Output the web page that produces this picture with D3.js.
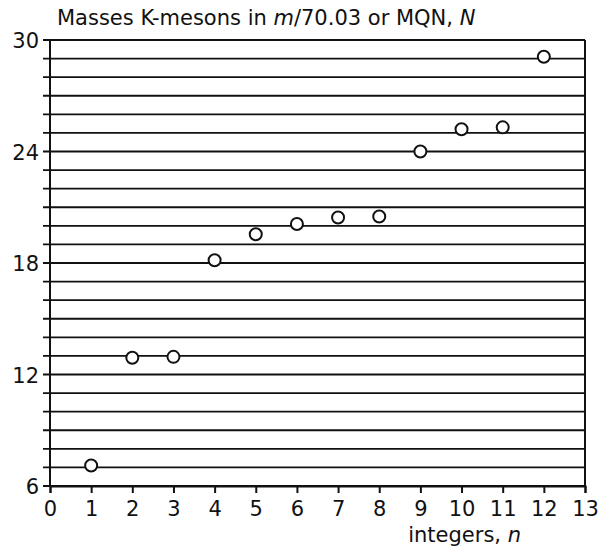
<!DOCTYPE html>
<html>
<head>
<meta charset="utf-8">
<script src="https://cdn.jsdelivr.net/npm/d3@7"></script>
<style>
  body { margin: 0; background: #fff; }
  svg text { font-family: "DejaVu Sans", Verdana, sans-serif; fill: #111; }
</style>
</head>
<body>
<svg></svg>
<script>
// data
var nValues = [1, 2, 3, 4, 5, 6, 7, 8, 9, 10, 11, 12];
var masses = [7.1, 12.9, 12.95, 18.15, 19.55, 20.1, 20.45, 20.5, 24.0, 25.2, 25.3, 29.1];
var yTickLabels = [6, 12, 18, 24, 30];
var xTicks = d3.range(0, 14);
var gridLevels = d3.range(6, 31);

var width = 600,
    height = 546,
    margin = {left: 50, right: 15, top: 40, bottom: 60},
    fs = "21px";

var svg = d3.select("svg")
    .attr("width", width)
    .attr("height", height);

var x = d3.scaleLinear().domain([0, 13]).range([margin.left, width - margin.right]),
    y = d3.scaleLinear().domain([6, 30]).range([height - margin.bottom, margin.top]);

// horizontal lines at every integer
svg.append("g")
    .attr("class", "grid")
    .selectAll("line")
    .data(gridLevels)
    .enter().append("line")
    .attr("x1", x(0) - 7)
    .attr("x2", x(13))
    .attr("y1", function (d) { return y(d); })
    .attr("y2", function (d) { return y(d); })
    .attr("stroke", "#111")
    .attr("stroke-width", 1.8);

// y axis
var yAxis = d3.axisLeft(y)
    .tickValues(yTickLabels)
    .tickSize(7)
    .tickPadding(4)
    .tickFormat(d3.format("d"));

var gy = svg.append("g")
    .attr("transform", "translate(" + x(0) + ",0)")
    .call(yAxis);
gy.select(".domain").remove();
gy.selectAll("line").remove();
gy.selectAll("text").style("font-size", fs).attr("dy", "0.36em");

svg.append("line")
    .attr("x1", x(0)).attr("x2", x(0))
    .attr("y1", y(30)).attr("y2", y(6))
    .attr("stroke", "#111").attr("stroke-width", 2);

// right border
svg.append("line")
    .attr("x1", x(13)).attr("x2", x(13))
    .attr("y1", y(30)).attr("y2", y(6))
    .attr("stroke", "#111").attr("stroke-width", 2);

// x axis
var xAxis = d3.axisBottom(x)
    .tickValues(xTicks)
    .tickSize(7)
    .tickPadding(8)
    .tickFormat(d3.format("d"));

var gx = svg.append("g")
    .attr("transform", "translate(0," + y(6) + ")")
    .call(xAxis);
gx.select(".domain").attr("stroke", "#111").attr("stroke-width", 2);
gx.selectAll(".tick line").attr("stroke", "#111").attr("stroke-width", 2);
gx.selectAll("text").style("font-size", fs);

// points
svg.append("g")
    .selectAll("circle")
    .data(nValues)
    .enter().append("circle")
    .attr("cx", function (d) { return x(d); })
    .attr("cy", function (d, i) { return y(masses[i]); })
    .attr("r", 6)
    .attr("fill", "#fff")
    .attr("stroke", "#111")
    .attr("stroke-width", 2);

// titles
var title = svg.append("text")
    .attr("x", 57)
    .attr("y", 25)
    .style("font-size", fs);
title.append("tspan").text("Masses K-mesons in ");
title.append("tspan").style("font-style", "italic").text("m");
title.append("tspan").text("/70.03 or MQN, ");
title.append("tspan").style("font-style", "italic").text("N");

var xl = svg.append("text")
    .attr("x", 521)
    .attr("y", 542)
    .attr("text-anchor", "end")
    .style("font-size", fs);
xl.append("tspan").text("integers, ");
xl.append("tspan").style("font-style", "italic").text("n");
</script>
</body>
</html>
